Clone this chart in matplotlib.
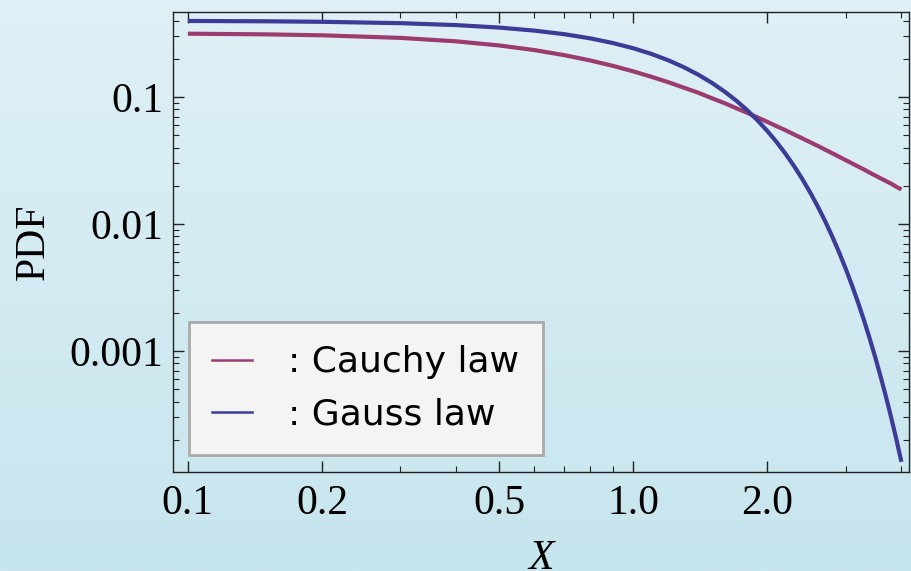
import numpy as np
import matplotlib
matplotlib.use("Agg")
import matplotlib.pyplot as plt
from matplotlib.lines import Line2D
from matplotlib.ticker import FixedLocator, FixedFormatter, NullFormatter

# values
x_vals = [0.1, 0.15, 0.2, 0.3, 0.4, 0.5, 0.6, 0.7, 0.8, 0.9,
          1.0, 1.1, 1.2, 1.3, 1.4, 1.5, 1.6, 1.7, 1.8, 1.9,
          2.0, 2.1, 2.2, 2.3, 2.4, 2.5, 2.6, 2.7, 2.8, 2.9,
          3.0, 3.1, 3.2, 3.3, 3.4, 3.5, 3.6, 3.7, 3.8, 3.9, 4.0]
cauchy_pdf = [0.3152, 0.3113, 0.3061, 0.2920, 0.2744, 0.2546, 0.2341, 0.2136,
              0.1941, 0.1759,
              0.1592, 0.1440, 0.1306, 0.1183, 0.1080, 0.0979, 0.0897, 0.0818,
              0.0752, 0.0691,
              0.0637, 0.0588, 0.0546, 0.0506, 0.0471, 0.0439, 0.0411, 0.0384,
              0.0360, 0.0338,
              0.0318, 0.0300, 0.0283, 0.0268, 0.0253, 0.0240, 0.0228, 0.0217,
              0.0207, 0.0196, 0.0187]
gauss_pdf = [0.3970, 0.3945, 0.3910, 0.3814, 0.3683, 0.3521, 0.3332, 0.3123,
             0.2897, 0.2661,
             0.2420, 0.2179, 0.1942, 0.1714, 0.1497, 0.1295, 0.1109, 0.0941,
             0.0790, 0.0656,
             0.0540, 0.0440, 0.03547, 0.02833, 0.02239, 0.01753, 0.01358,
             0.01042, 0.007915, 0.005953,
             0.004432, 0.003267, 0.002384, 0.001723, 0.001232, 0.000873,
             0.000612, 0.000425, 0.000292, 0.000199, 0.0001338]

x_major = [0.1, 0.2, 0.5, 1.0, 2.0]
x_major_labels = ["0.1", "0.2", "0.5", "1.0", "2.0"]
x_minor = [0.3, 0.4, 0.6, 0.7, 0.8, 0.9, 3.0, 4.0]
y_major = [0.001, 0.01, 0.1]
y_major_labels = ["0.001", "0.01", "0.1"]

cauchy_color = "#9b3b6f"
gauss_color = "#3c3b98"

fig = plt.figure(figsize=(9.11, 5.71), dpi=100)

# gradient background
bg = fig.add_axes([0, 0, 1, 1], zorder=-10)
top = np.array([223, 240, 246]) / 255
bottom = np.array([199, 229, 238]) / 255
t = np.linspace(0, 1, 256)[:, None]
grad = top * (1 - t) + bottom * t
bg.imshow(grad[:, None, :], aspect="auto", extent=[0, 1, 0, 1])
bg.axis("off")

ax = fig.add_axes([173 / 911, 1 - 472 / 571, (909 - 173) / 911, (472 - 12) / 571])
ax.set_facecolor("none")

ax.plot(x_vals, cauchy_pdf, color=cauchy_color, lw=3.0, solid_capstyle="butt")
ax.plot(x_vals, gauss_pdf, color=gauss_color, lw=3.0, solid_capstyle="butt")

ax.set_xscale("log")
ax.set_yscale("log")
ax.set_xlim(0.0926, 4.16)
ax.set_ylim(1.114e-4, 0.467)

serif = "Liberation Serif"
ax.xaxis.set_major_locator(FixedLocator(x_major))
ax.xaxis.set_major_formatter(FixedFormatter(x_major_labels))
ax.xaxis.set_minor_locator(FixedLocator(x_minor))
ax.xaxis.set_minor_formatter(NullFormatter())
ax.yaxis.set_major_locator(FixedLocator(y_major))
ax.yaxis.set_major_formatter(FixedFormatter(y_major_labels))
ax.yaxis.set_minor_locator(FixedLocator(
    [m * 10.0 ** e for e in (-4, -3, -2, -1) for m in range(2, 10)]))
ax.yaxis.set_minor_formatter(NullFormatter())

ax.tick_params(which="both", direction="in", top=True, right=True, color="#222222")
ax.tick_params(which="major", length=8, width=1.0)
ax.tick_params(which="minor", length=4, width=0.8)
ax.tick_params(axis="x", which="major", pad=9)
ax.tick_params(axis="y", which="major", pad=7)
for lab in ax.get_xticklabels() + ax.get_yticklabels():
    lab.set_fontfamily(serif)
    lab.set_fontsize(30)
for s in ax.spines.values():
    s.set_linewidth(1.0)
    s.set_color("#222222")

ax.set_xlabel("X", fontfamily=serif, fontstyle="italic", fontsize=30, labelpad=12)
ax.set_ylabel("PDF", fontfamily=serif, fontsize=30, labelpad=12)

handles = [Line2D([], [], color=cauchy_color, lw=1.8),
           Line2D([], [], color=gauss_color, lw=1.8)]
leg = ax.legend(handles, [": Cauchy law", ": Gauss law"],
                loc="lower left", bbox_to_anchor=(189 / 911, 1 - 455 / 571),
                bbox_transform=fig.transFigure, borderaxespad=0,
                prop={"family": "DejaVu Sans", "size": 26},
                handlelength=1.1, handletextpad=1.0, labelspacing=0.5,
                borderpad=0.65, fancybox=False, framealpha=1)
leg.get_frame().set_facecolor("#f4f4f4")
leg.get_frame().set_edgecolor("#aaaaaa")
leg.get_frame().set_linewidth(2.0)

fig.savefig("out.png", dpi=100)
